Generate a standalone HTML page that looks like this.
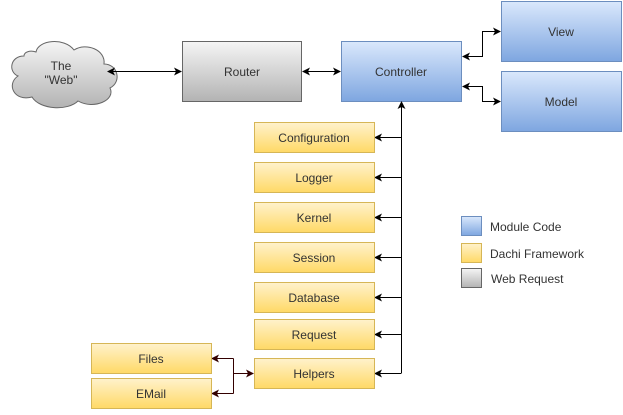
<!DOCTYPE html>
<html><head><style>
body{margin:0;background:#fff;}
</style></head><body>
<svg width="623" height="410" xmlns="http://www.w3.org/2000/svg" font-family="Liberation Sans, sans-serif" font-size="12" fill="#333">
<defs>
<linearGradient id="b" x1="0" y1="0" x2="0" y2="1"><stop offset="0" stop-color="#dae8fc"/><stop offset="1" stop-color="#7ea6e0"/></linearGradient>
<linearGradient id="y" x1="0" y1="0" x2="0" y2="1"><stop offset="0" stop-color="#fff2cc"/><stop offset="1" stop-color="#ffd966"/></linearGradient>
<linearGradient id="g" x1="0" y1="0" x2="0" y2="1"><stop offset="0" stop-color="#f5f5f5"/><stop offset="1" stop-color="#b3b3b3"/></linearGradient>
<marker id="a" markerWidth="8" markerHeight="8" refX="7" refY="4" orient="auto-start-reverse" markerUnits="userSpaceOnUse"><path d="M0,0 L8,4 L0,8 L2,4z" fill="#000"/></marker>
<marker id="r" markerWidth="8" markerHeight="8" refX="7" refY="4" orient="auto-start-reverse" markerUnits="userSpaceOnUse"><path d="M0,0 L8,4 L0,8 L2,4z" fill="#330000"/></marker>
</defs>
<path d="M24,56 C10,56 8,72 18,76 C6,84 14,102 32,97 C40,110 68,111 78,101 C94,110 116,100 110,88 C122,82 118,64 104,64 C106,50 86,42 74,50 C64,37 38,40 36,52 C30,50 24,52 24,56z" fill="url(#g)" stroke="#666"/>
<text x="61" y="70" text-anchor="middle">The</text><text x="61" y="84" text-anchor="middle">"Web"</text>
<rect x="182.5" y="41.5" width="119" height="60" fill="url(#g)" stroke="#666"/>
<text x="242" y="76" text-anchor="middle">Router</text>
<rect x="341.5" y="41.5" width="120" height="60" fill="url(#b)" stroke="#6c8ebf"/>
<text x="401" y="76" text-anchor="middle">Controller</text>
<rect x="501.5" y="1.5" width="120" height="60" fill="url(#b)" stroke="#6c8ebf"/>
<text x="561" y="36" text-anchor="middle">View</text>
<rect x="501.5" y="71.5" width="120" height="60" fill="url(#b)" stroke="#6c8ebf"/>
<text x="561" y="106" text-anchor="middle">Model</text>
<g stroke="#000" fill="none">
<path d="M108,71.5 H181" marker-start="url(#a)" marker-end="url(#a)"/>
<path d="M303,71.5 H340" marker-start="url(#a)" marker-end="url(#a)"/>
<path d="M463,56.5 H482.5 V31.5 H500" marker-start="url(#a)" marker-end="url(#a)"/>
<path d="M463,86.5 H482.5 V101.5 H500" marker-start="url(#a)" marker-end="url(#a)"/>
<path d="M401.5,373 V102" marker-end="url(#a)"/>
<path d="M401.5,137.5 H375" marker-end="url(#a)"/>
<path d="M401.5,177.5 H375" marker-end="url(#a)"/>
<path d="M401.5,217.5 H375" marker-end="url(#a)"/>
<path d="M401.5,257.5 H375" marker-end="url(#a)"/>
<path d="M401.5,297.5 H375" marker-end="url(#a)"/>
<path d="M401.5,334.5 H375" marker-end="url(#a)"/>
<path d="M401.5,373.5 H375" marker-end="url(#a)"/>
</g>
<g stroke="#330000" fill="none">
<path d="M233.5,373.5 H253" marker-end="url(#r)"/>
<path d="M233.5,358.5 V393.5"/>
<path d="M233.5,358.5 H212" marker-end="url(#r)"/>
<path d="M233.5,393.5 H212" marker-end="url(#r)"/>
</g>
<g stroke="#d6b656" fill="url(#y)">
<rect x="254.5" y="122.5" width="120" height="30"/>
<rect x="254.5" y="162.5" width="120" height="30"/>
<rect x="254.5" y="202.5" width="120" height="30"/>
<rect x="254.5" y="242.5" width="120" height="30"/>
<rect x="254.5" y="282.5" width="120" height="30"/>
<rect x="254.5" y="319.5" width="120" height="30"/>
<rect x="254.5" y="358.5" width="120" height="30"/>
<rect x="91.5" y="343.5" width="120" height="30"/>
<rect x="91.5" y="378.5" width="120" height="30"/>
</g>
<g text-anchor="middle">
<text x="314" y="142">Configuration</text>
<text x="314" y="182">Logger</text>
<text x="314" y="222">Kernel</text>
<text x="314" y="262">Session</text>
<text x="314" y="302">Database</text>
<text x="314" y="339">Request</text>
<text x="314" y="378">Helpers</text>
<text x="151" y="363">Files</text>
<text x="151" y="398">EMail</text>
</g>
<rect x="461.5" y="216.5" width="20" height="19" fill="url(#b)" stroke="#6c8ebf"/>
<rect x="461.5" y="243.5" width="20" height="19" fill="url(#y)" stroke="#d6b656"/>
<rect x="461.5" y="268.5" width="20" height="19" fill="url(#g)" stroke="#666"/>
<text x="490" y="231">Module Code</text>
<text x="490" y="258">Dachi Framework</text>
<text x="491" y="283">Web Request</text>
</svg>
</body></html>
